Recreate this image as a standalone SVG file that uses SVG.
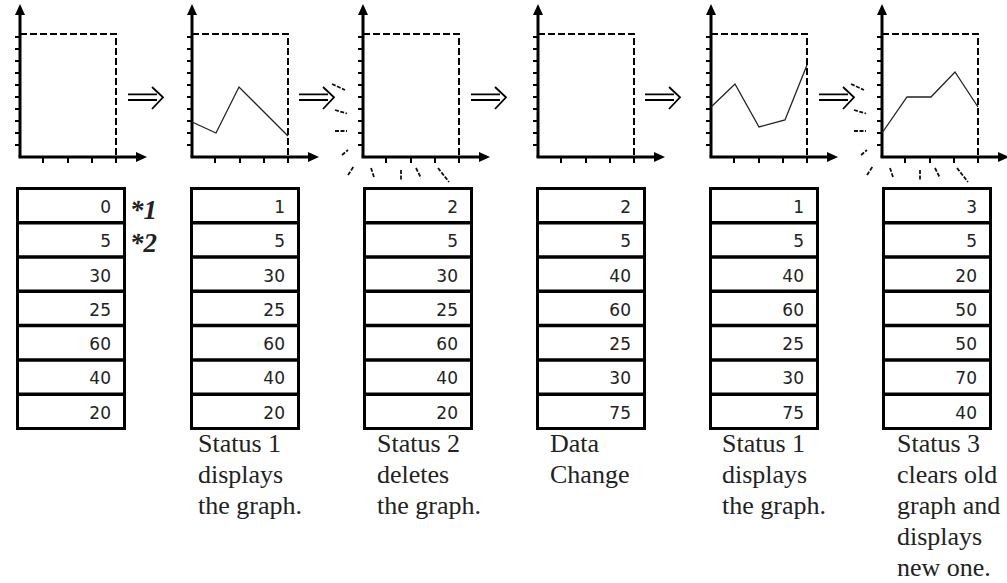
<svg xmlns="http://www.w3.org/2000/svg" xmlns:xlink="http://www.w3.org/1999/xlink" width="1007" height="583" viewBox="0 0 1007 583">
<style>
.ax{stroke:#000;stroke-width:3;fill:none}
.tk{stroke:#000;stroke-width:2;fill:none}
.ah{fill:#000;stroke:none}
.dash{stroke:#000;stroke-width:2;fill:none;stroke-dasharray:7 3}
.data{stroke:#222;stroke-width:1.3;fill:none}
.arr{stroke:#000;stroke-width:1.8;fill:none}
.fl{stroke:#111;stroke-width:1.8;fill:none;stroke-dasharray:4 1.5}
.cell{fill:#fff;stroke:#000;stroke-width:3}
.row{stroke:#000;stroke-width:3.5}
.num{font-family:"DejaVu Sans",sans-serif;font-size:17px;fill:#222;text-anchor:end}
.lbl{font-family:"Liberation Serif","Times New Roman",serif;font-size:26px;fill:#222}
.note{font-family:"Liberation Serif","Times New Roman",serif;font-size:27px;font-weight:bold;font-style:italic;fill:#222}
</style>
<defs>
<g id="axes">
<path class="dash" d="M0,34 H96 V163"/>
<line class="ax" x1="0" y1="157" x2="0" y2="13"/>
<polygon class="ah" points="0,4 -5,15 5,15"/>
<line class="ax" x1="-1.5" y1="157" x2="118" y2="157"/>
<polygon class="ah" points="127,157 116,152 116,162"/>
<path class="tk" d="M-5,37H0M-5,49H0M-5,61H0M-5,73H0M-5,85H0M-5,97H0M-5,109H0M-5,121H0M-5,133H0M-5,145H0"/>
<path class="tk" d="M23,157V163M48,157V163M72,157V163M96,157V163"/>
</g>
<g id="table">
<rect class="cell" x="1.5" y="188.5" width="107" height="240"/>
<path class="row" d="M0,222.7H110M0,257H110M0,291.3H110M0,325.6H110M0,359.9H110M0,394.2H110"/>
</g>
<g id="flicker">
<path class="fl" d="M-31,84L-18,90M-28,110L-16,113.5M-28,131H-16M-21,155L-15,150M-15,175L-9,166M8,168L11,177M38,170V180M53,168L58,178M75,168L86,182"/>
</g>
<g id="dbl">
<path class="arr" d="M108,94.3H137M108,100H137"/>
<polyline class="arr" points="132,87 143,97.3 132,109"/>
</g>
</defs>

<g id="panel1">
<use xlink:href="#axes" x="20"/>
<use xlink:href="#table" x="16"/>
<g class="num"><text x="111" y="213">0</text><text x="111" y="247">5</text><text x="111" y="282">30</text><text x="111" y="316">25</text><text x="111" y="350">60</text><text x="111" y="384">40</text><text x="111" y="419">20</text></g>
<text class="note" x="130" y="219">*1</text>
<text class="note" x="130" y="252">*2</text>
</g>

<g id="panel2">
<use xlink:href="#axes" x="192"/>
<polyline class="data" points="192,122 216,133 239,87 288,136"/>
<use xlink:href="#table" x="190"/>
<g class="num"><text x="285" y="213">1</text><text x="285" y="247">5</text><text x="285" y="282">30</text><text x="285" y="316">25</text><text x="285" y="350">60</text><text x="285" y="384">40</text><text x="285" y="419">20</text></g>
<text class="lbl" x="198" y="452">Status 1</text>
<text class="lbl" x="198" y="483">displays</text>
<text class="lbl" x="198" y="514">the graph.</text>
</g>

<g id="panel3">
<use xlink:href="#axes" x="363"/>
<use xlink:href="#flicker" x="363"/>
<use xlink:href="#table" x="363"/>
<g class="num"><text x="458" y="213">2</text><text x="458" y="247">5</text><text x="458" y="282">30</text><text x="458" y="316">25</text><text x="458" y="350">60</text><text x="458" y="384">40</text><text x="458" y="419">20</text></g>
<text class="lbl" x="377" y="452">Status 2</text>
<text class="lbl" x="377" y="483">deletes</text>
<text class="lbl" x="377" y="514">the graph.</text>
</g>

<g id="panel4">
<use xlink:href="#axes" x="538"/>
<use xlink:href="#table" x="536"/>
<g class="num"><text x="631" y="213">2</text><text x="631" y="247">5</text><text x="631" y="282">40</text><text x="631" y="316">60</text><text x="631" y="350">25</text><text x="631" y="384">30</text><text x="631" y="419">75</text></g>
<text class="lbl" x="550" y="452">Data</text>
<text class="lbl" x="550" y="483">Change</text>
</g>

<g id="panel5">
<use xlink:href="#axes" x="711"/>
<polyline class="data" points="711,107 735,84 759,127 785,120 807,65"/>
<use xlink:href="#table" x="709"/>
<g class="num"><text x="804" y="213">1</text><text x="804" y="247">5</text><text x="804" y="282">40</text><text x="804" y="316">60</text><text x="804" y="350">25</text><text x="804" y="384">30</text><text x="804" y="419">75</text></g>
<text class="lbl" x="722" y="452">Status 1</text>
<text class="lbl" x="722" y="483">displays</text>
<text class="lbl" x="722" y="514">the graph.</text>
</g>

<g id="panel6">
<use xlink:href="#axes" x="882"/>
<use xlink:href="#flicker" x="882"/>
<polyline class="data" points="882,133 907,97 931,97 955,72 978,107"/>
<use xlink:href="#table" x="882"/>
<g class="num"><text x="977" y="213">3</text><text x="977" y="247">5</text><text x="977" y="282">20</text><text x="977" y="316">50</text><text x="977" y="350">50</text><text x="977" y="384">70</text><text x="977" y="419">40</text></g>
<text class="lbl" x="897" y="452">Status 3</text>
<text class="lbl" x="897" y="483">clears old</text>
<text class="lbl" x="897" y="514">graph and</text>
<text class="lbl" x="897" y="545">displays</text>
<text class="lbl" x="897" y="576">new one.</text>
</g>

<g id="connectors">
<use xlink:href="#dbl" x="20"/>
<use xlink:href="#dbl" x="191"/>
<use xlink:href="#dbl" x="363"/>
<use xlink:href="#dbl" x="537"/>
<use xlink:href="#dbl" x="711"/>
</g>
</svg>
